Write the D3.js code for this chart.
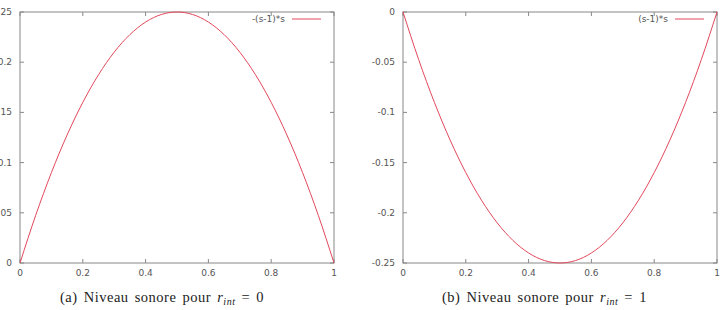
<!DOCTYPE html>
<html lang="en">
<head>
<meta charset="UTF-8">
<title>Niveau sonore</title>
<script src="https://d3js.org/d3.v7.min.js"></script>
<style>
    body { margin: 0; background: #fff; }
    .tick-label { font-family: "DejaVu Sans", sans-serif; font-size: 9px; fill: #555; }
    .legend-label { font-family: "DejaVu Sans", sans-serif; font-size: 9px; fill: #555; }
    .caption { font-family: "Liberation Serif", "DejaVu Serif", serif; font-size: 14.5px; fill: #222; letter-spacing: 0.5px; word-spacing: 2px; }
</style>
</head>
<body>
<div id="chart"></div>
<script>
    // values
    const sValues = [0, 0.05, 0.1, 0.15, 0.2, 0.25, 0.3, 0.35, 0.4, 0.45, 0.5, 0.55, 0.6, 0.65, 0.7, 0.75, 0.8, 0.85, 0.9, 0.95, 1];
    const leftValues = [0, 0.0475, 0.09, 0.1275, 0.16, 0.1875, 0.21, 0.2275, 0.24, 0.2475, 0.25, 0.2475, 0.24, 0.2275, 0.21, 0.1875, 0.16, 0.1275, 0.09, 0.0475, 0];
    const rightValues = [0, -0.0475, -0.09, -0.1275, -0.16, -0.1875, -0.21, -0.2275, -0.24, -0.2475, -0.25, -0.2475, -0.24, -0.2275, -0.21, -0.1875, -0.16, -0.1275, -0.09, -0.0475, 0];
    const xTicks = [0, 0.2, 0.4, 0.6, 0.8, 1];
    const leftYTicks = [0, 0.05, 0.1, 0.15, 0.2, 0.25];
    const rightYTicks = [-0.25, -0.2, -0.15, -0.1, -0.05, 0];

    const svg = d3.select("#chart").append("svg")
        .attr("width", 725)
        .attr("height", 310);

    function drawPanel(opts) {
        const x = d3.scaleLinear().domain([0, 1]).range([opts.left, opts.right]);
        const y = d3.scaleLinear().domain(opts.yDomain).range([263, 12]);
        const g = svg.append("g");

        // ticks (inside, mirrored)
        xTicks.forEach(t => {
            g.append("line").attr("x1", x(t)).attr("x2", x(t)).attr("y1", 263).attr("y2", 259).attr("stroke", "#888");
            g.append("line").attr("x1", x(t)).attr("x2", x(t)).attr("y1", 12).attr("y2", 16).attr("stroke", "#888");
            g.append("text").attr("class", "tick-label")
                .attr("x", x(t)).attr("y", 276).attr("text-anchor", "middle").text(t);
        });
        opts.yTicks.forEach(t => {
            g.append("line").attr("x1", opts.left).attr("x2", opts.left + 4).attr("y1", y(t)).attr("y2", y(t)).attr("stroke", "#888");
            g.append("line").attr("x1", opts.right).attr("x2", opts.right - 4).attr("y1", y(t)).attr("y2", y(t)).attr("stroke", "#888");
            g.append("text").attr("class", "tick-label")
                .attr("x", opts.left - 8).attr("y", y(t) + 3).attr("text-anchor", "end").text(t);
        });

        g.append("rect")
            .attr("x", opts.left).attr("y", 12)
            .attr("width", opts.right - opts.left).attr("height", 251)
            .attr("fill", "none").attr("stroke", "#888").attr("stroke-width", 1);

        const line = d3.line()
            .x((d, i) => x(sValues[i]))
            .y(d => y(d))
            .curve(d3.curveMonotoneX);

        g.append("path").datum(opts.values)
            .attr("d", line)
            .attr("fill", "none")
            .attr("stroke", "#e2485a")
            .attr("stroke-width", 1);

        // legend
        g.append("text").attr("class", "legend-label")
            .attr("x", opts.legendX).attr("y", 22).attr("text-anchor", "end").text(opts.legend);
        g.append("line")
            .attr("x1", opts.legendX + 7).attr("x2", opts.legendX + 36)
            .attr("y1", 19).attr("y2", 19)
            .attr("stroke", "#e2485a").attr("stroke-width", 1);

        // caption
        const cap = g.append("text").attr("class", "caption")
            .attr("x", opts.capX).attr("y", 302);
        cap.append("tspan").text(opts.capLetter + " Niveau sonore pour ");
        cap.append("tspan").attr("font-style", "italic").text("r");
        cap.append("tspan").attr("font-style", "italic").attr("font-size", "10px").attr("dy", 3).text("int");
        cap.append("tspan").attr("dy", -3).text(" = " + opts.capValue);
    }

    drawPanel({ left: 20, right: 334, yDomain: [0, 0.25], yTicks: leftYTicks, values: leftValues,
        legend: "-(s-1)*s", legendX: 285, capX: 60, capLetter: "(a)", capValue: "0" });
    drawPanel({ left: 403, right: 717, yDomain: [-0.25, 0], yTicks: rightYTicks, values: rightValues,
        legend: "(s-1)*s", legendX: 668, capX: 442, capLetter: "(b)", capValue: "1" });
</script>
</body>
</html>
